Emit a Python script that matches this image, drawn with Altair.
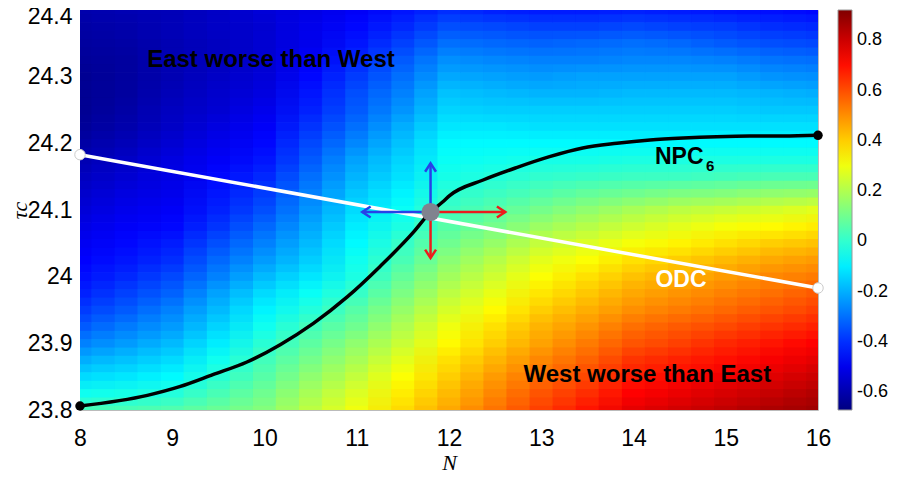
import altair as alt
import pandas as pd

# ---------------- data ----------------
grid_N = [8.0, 8.5, 9.0, 9.5, 10.0, 10.5, 11.0, 11.5, 12.0, 12.5, 13.0, 13.5, 14.0, 14.5, 15.0, 15.5, 16.0]
grid_tau = [24.4, 24.375, 24.35, 24.325, 24.3, 24.275, 24.25, 24.225, 24.2, 24.175, 24.15, 24.125, 24.1,
            24.075, 24.05, 24.025, 24.0, 23.975, 23.95, 23.925, 23.9, 23.875, 23.85, 23.825, 23.8]

# one list per N column, values from tau=24.4 (top) down to tau=23.8 (bottom)
field_cols = [
    [-0.60,-0.61,-0.62,-0.63,-0.64,-0.64,-0.64,-0.63,-0.61,-0.59,-0.57,-0.55,-0.53,-0.51,-0.49,-0.47,-0.45,-0.42,-0.38,-0.33,-0.27,-0.20,-0.13,-0.05,0.03],
    [-0.59,-0.60,-0.61,-0.62,-0.62,-0.62,-0.61,-0.60,-0.58,-0.56,-0.54,-0.52,-0.50,-0.48,-0.46,-0.44,-0.41,-0.37,-0.33,-0.28,-0.23,-0.17,-0.11,-0.04,0.04],
    [-0.58,-0.58,-0.59,-0.59,-0.59,-0.58,-0.57,-0.56,-0.54,-0.52,-0.51,-0.50,-0.48,-0.46,-0.43,-0.40,-0.36,-0.32,-0.27,-0.23,-0.18,-0.13,-0.08,-0.02,0.05],
    [-0.56,-0.56,-0.57,-0.57,-0.56,-0.55,-0.54,-0.52,-0.50,-0.48,-0.46,-0.44,-0.42,-0.39,-0.35,-0.31,-0.27,-0.22,-0.18,-0.14,-0.10,-0.05,-0.01,0.04,0.09],
    [-0.53,-0.54,-0.54,-0.54,-0.53,-0.52,-0.50,-0.48,-0.46,-0.44,-0.41,-0.38,-0.35,-0.31,-0.27,-0.23,-0.18,-0.13,-0.09,-0.05,-0.01,0.03,0.06,0.10,0.13],
    [-0.51,-0.50,-0.50,-0.48,-0.46,-0.44,-0.42,-0.39,-0.36,-0.33,-0.30,-0.27,-0.24,-0.21,-0.18,-0.15,-0.11,-0.06,-0.02,0.03,0.07,0.11,0.15,0.19,0.22],
    [-0.48,-0.46,-0.44,-0.41,-0.38,-0.35,-0.33,-0.30,-0.26,-0.22,-0.19,-0.16,-0.13,-0.10,-0.08,-0.05,-0.03,0.01,0.06,0.10,0.15,0.19,0.23,0.27,0.30],
    [-0.44,-0.41,-0.37,-0.33,-0.30,-0.27,-0.24,-0.20,-0.17,-0.14,-0.12,-0.09,-0.06,-0.03,0.01,0.04,0.08,0.12,0.16,0.20,0.24,0.28,0.32,0.35,0.38],
    [-0.40,-0.35,-0.30,-0.25,-0.21,-0.17,-0.14,-0.11,-0.08,-0.06,-0.04,-0.01,0.02,0.06,0.10,0.14,0.18,0.22,0.26,0.30,0.33,0.37,0.40,0.43,0.46],
    [-0.42,-0.36,-0.31,-0.26,-0.22,-0.18,-0.15,-0.11,-0.08,-0.05,-0.02,0.02,0.06,0.11,0.16,0.21,0.25,0.29,0.33,0.37,0.40,0.44,0.48,0.51,0.54],
    [-0.43,-0.37,-0.32,-0.27,-0.23,-0.19,-0.15,-0.12,-0.08,-0.04,0.00,0.05,0.11,0.17,0.23,0.28,0.32,0.36,0.40,0.44,0.47,0.51,0.55,0.59,0.62],
    [-0.43,-0.37,-0.31,-0.27,-0.22,-0.19,-0.15,-0.12,-0.08,-0.04,0.01,0.08,0.15,0.21,0.27,0.32,0.37,0.41,0.45,0.49,0.53,0.57,0.61,0.65,0.69],
    [-0.42,-0.36,-0.30,-0.26,-0.22,-0.18,-0.15,-0.12,-0.08,-0.03,0.02,0.10,0.19,0.25,0.31,0.37,0.42,0.46,0.50,0.55,0.59,0.64,0.68,0.72,0.76],
    [-0.43,-0.37,-0.31,-0.26,-0.22,-0.18,-0.15,-0.12,-0.08,-0.03,0.02,0.12,0.22,0.28,0.34,0.40,0.45,0.49,0.53,0.58,0.62,0.67,0.71,0.75,0.79],
    [-0.44,-0.38,-0.33,-0.27,-0.22,-0.18,-0.15,-0.12,-0.08,-0.03,0.03,0.13,0.24,0.31,0.37,0.43,0.48,0.52,0.56,0.61,0.66,0.70,0.74,0.78,0.82],
    [-0.45,-0.40,-0.35,-0.29,-0.24,-0.19,-0.16,-0.12,-0.08,-0.03,0.04,0.15,0.26,0.33,0.40,0.46,0.51,0.55,0.59,0.64,0.69,0.73,0.77,0.81,0.85],
    [-0.46,-0.41,-0.36,-0.30,-0.25,-0.20,-0.16,-0.12,-0.08,-0.03,0.04,0.16,0.28,0.35,0.42,0.48,0.53,0.58,0.62,0.67,0.72,0.76,0.80,0.84,0.87],
]

npc_N = [8.0, 8.73, 9.08, 9.44, 9.81, 10.17, 10.53, 10.9, 11.25, 11.61, 11.8, 11.93, 12.01,
         12.37, 12.74, 13.09, 13.45, 13.82, 14.18, 14.54, 14.9, 15.26, 15.62, 16.0]
npc_tau = [23.806, 23.822, 23.835, 23.853, 23.872, 23.898, 23.93, 23.97, 24.015, 24.066, 24.097, 24.112, 24.122,
           24.145, 24.164, 24.18, 24.193, 24.2, 24.205, 24.208, 24.21, 24.211, 24.211, 24.212]

odc_N = [8.0, 16.0]
odc_tau = [24.183, 23.983]

center_N = [11.8]
center_tau = [24.097]

arrow_tip_N = [11.06, 11.8, 12.61, 11.8]
arrow_tip_tau = [24.097, 24.17, 24.097, 24.028]
arrow_colors = ["#2840e8", "#2840e8", "#ec1c1c", "#ec1c1c"]
arrow_angles = [180, 270, 0, 90]

cbar_ticks = [-0.6, -0.4, -0.2, 0.0, 0.2, 0.4, 0.6, 0.8]
x_ticks = [8, 9, 10, 11, 12, 13, 14, 15, 16]
y_ticks = [23.8, 23.9, 24.0, 24.1, 24.2, 24.3, 24.4]

# jet colormap stops over the colorbar range
jet_domain = [-0.67, -0.471, -0.273, -0.074, 0.125, 0.324, 0.523, 0.721, 0.92]
jet_colors = ["#000080", "#0000ff", "#0080ff", "#00ffff", "#80ff80", "#ffff00", "#ff8000", "#ff0000", "#800000"]

# ---------------- tables ----------------
HALF_W, HALF_H = 0.25, 0.0125          # half size of one grid cell
Q_W, Q_H = HALF_W / 2, HALF_H / 2      # quarter-cell shift used for box-filter smoothing


def cell_table(dx, dy, grow):
    rows = []
    for i, n in enumerate(grid_N):
        for j, t in enumerate(grid_tau):
            rows.append({"x0": n - HALF_W + dx - grow, "x1": n + HALF_W + dx + grow,
                         "y0": t - HALF_H + dy - grow / 20, "y1": t + HALF_H + dy + grow / 20,
                         "v": field_cols[i][j]})
    return pd.DataFrame(rows)


xs = alt.Scale(domain=[8, 16], nice=False, zero=False)
ys = alt.Scale(domain=[23.8, 24.4], nice=False, zero=False)
cscale = alt.Scale(domain=jet_domain, range=jet_colors, interpolate="rgb", clamp=True)

LAB_FONT = "Liberation Sans"

x_axis = alt.Axis(
    values=x_ticks, title="N", labelFont=LAB_FONT, labelFontSize=23, labelColor="black",
    labelPadding=17, labelFlush=False, domain=False, ticks=False, tickSize=0, grid=False,
    titleFont="Liberation Serif", titleFontStyle="italic", titleFontWeight="normal",
    titleFontSize=22, titleColor="black", titleX=369, titleY=52, titleBaseline="middle")
y_axis = alt.Axis(
    values=y_ticks, title="τc", labelFont=LAB_FONT, labelFontSize=23, labelColor="black",
    labelPadding=8, labelFlush=False, domain=False, ticks=False, tickSize=0, grid=False,
    labelOffset={"condition": {"test": "datum.value == 24.4", "value": 6}, "value": 0},
    labelExpr="datum.value == 24 ? '24' : format(datum.value, '.1f')",
    titleFont="Liberation Serif", titleFontStyle="italic", titleFontWeight="normal",
    titleFontSize=22, titleColor="black", titleX=-61, titleY=200, titleAngle=-90,
    titleAlign="center", titleBaseline="middle")


def X(f):
    return alt.X(f, scale=xs, axis=x_axis, title="N")


def Y(f):
    return alt.Y(f, scale=ys, axis=y_axis, title="τc")


cbar_legend = alt.Legend(
    type="gradient", orient="none", legendX=758, legendY=0, direction="vertical", title=None,
    gradientLength=400, gradientThickness=14, padding=0,
    gradientStrokeColor="#999999", gradientStrokeWidth=1,
    values=cbar_ticks, labelFont=LAB_FONT, labelFontSize=18, labelColor="black",
    labelOffset=5, labelOverlap=False,
    labelExpr="abs(datum.value) < 1e-9 ? '0' : replace(format(datum.value, '.1f'), '\u2212', '-')")

# four quarter-shifted copies of the grid, blended with equal weight (1, 1/2, 1/3, 1/4)
heat_layers = []
for k, (dx, dy, op, grow) in enumerate([(-Q_W, -Q_H, 1.0, 0.004), (Q_W, -Q_H, 1 / 2, 0.0),
                                        (-Q_W, Q_H, 1 / 3, 0.0), (Q_W, Q_H, 1 / 4, 0.0)]):
    heat_layers.append(
        alt.Chart(cell_table(dx, dy, grow)).mark_rect(clip=True, opacity=op).encode(
            x=X("x0:Q"), x2="x1:Q", y=Y("y0:Q"), y2="y1:Q",
            color=alt.Color("v:Q", scale=cscale, legend=cbar_legend if k == 0 else None),
        )
    )

npc_df = pd.DataFrame({"N": npc_N, "tau": npc_tau})
npc_end_df = npc_df.iloc[[0, len(npc_df) - 1]]
odc_df = pd.DataFrame({"N": odc_N, "tau": odc_tau})
center_df = pd.DataFrame({"N": center_N, "tau": center_tau})
arrow_df = pd.DataFrame({
    "N0": center_N * 4, "t0": center_tau * 4,
    "N": arrow_tip_N, "tau": arrow_tip_tau,
    "col": arrow_colors, "ang": arrow_angles,
})

odc_line = alt.Chart(odc_df).mark_line(color="white", strokeWidth=3.5).encode(x=X("N:Q"), y=Y("tau:Q"))
odc_pts = alt.Chart(odc_df).mark_point(filled=True, size=110, color="white", stroke="#cccccc",
                                       strokeWidth=1, opacity=1).encode(x=X("N:Q"), y=Y("tau:Q"))

npc_line = alt.Chart(npc_df).mark_line(color="black", strokeWidth=3.5, interpolate="monotone").encode(
    x=X("N:Q"), y=Y("tau:Q"))
npc_pts = alt.Chart(npc_end_df).mark_point(filled=True, size=90, color="black", opacity=1).encode(
    x=X("N:Q"), y=Y("tau:Q"))

shafts = alt.Chart(arrow_df).mark_rule(strokeWidth=2.5).encode(
    x=X("N0:Q"), y=Y("t0:Q"), x2="N:Q", y2="tau:Q",
    color=alt.Color("col:N", scale=None))
heads = alt.Chart(arrow_df).mark_point(
    shape="M-1,-0.65L0,0L-1,0.65", filled=False, size=280, strokeWidth=2.5, opacity=1).encode(
    x=X("N:Q"), y=Y("tau:Q"),
    color=alt.Color("col:N", scale=None),
    angle=alt.Angle("ang:Q", scale=None))

center = alt.Chart(center_df).mark_circle(size=330, color="#80838f", opacity=1).encode(
    x=X("N:Q"), y=Y("tau:Q"))


def label(text, n, t, size, color="black", align="center", weight="bold"):
    d = pd.DataFrame({"N": [n], "tau": [t], "txt": [text]})
    return alt.Chart(d).mark_text(font=LAB_FONT, fontSize=size, fontWeight=weight, color=color,
                                  align=align, baseline="middle").encode(
        x=X("N:Q"), y=Y("tau:Q"), text="txt:N")


texts = [
    label("East worse than West", 10.07, 24.325, 24),
    label("West worse than East", 14.15, 23.8525, 24),
    label("NPC", 14.233, 24.1795, 23, align="left"),
    label("6", 14.786, 24.166, 15, align="left"),
    label("ODC", 14.515, 23.995, 23, color="white"),
]

chart = alt.layer(*heat_layers, odc_line, npc_line, shafts, heads, center, odc_pts, npc_pts, *texts).properties(
    width=738, height=400,
    autosize=alt.AutoSizeParams(type="none"),
    padding={"left": 72, "top": 2, "right": 72, "bottom": 63},
    background="white",
).configure_view(stroke="#bbbbbb", strokeWidth=1)

chart.save("out.html", embed_options={"renderer": "svg", "actions": False})
